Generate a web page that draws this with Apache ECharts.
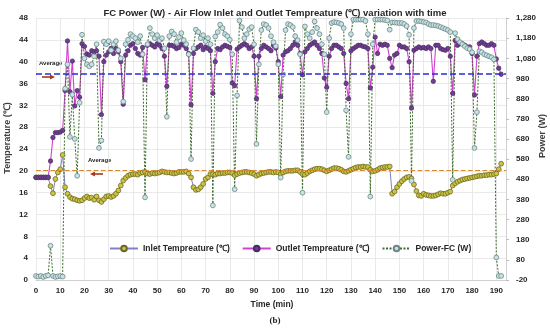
<!DOCTYPE html>
<html><head><meta charset="utf-8">
<script src="https://cdn.jsdelivr.net/npm/echarts@6/dist/echarts.min.js"></script>
<style>html,body{margin:0;padding:0;background:#fff}#c{width:550px;height:333px}</style>
</head><body><div id="c"></div>
<script>
const TITLE = 'FC Power (W) - Air Flow Inlet and Outlet Tempreature (℃) variation with time';
const timeMin = [0,1,2,3,4,5,6,7,8,9,10,11,12,13,14,15,16,17,18,19,20,21,22,23,24,25,26,27,28,29,30,31,32,33,34,35,36,37,38,39,40,41,42,43,44,45,46,47,48,49,50,51,52,53,54,55,56,57,58,59,60,61,62,63,64,65,66,67,68,69,70,71,72,73,74,75,76,77,78,79,80,81,82,83,84,85,86,87,88,89,90,91,92,93,94,95,96,97,98,99,100,101,102,103,104,105,106,107,108,109,110,111,112,113,114,115,116,117,118,119,120,121,122,123,124,125,126,127,128,129,130,131,132,133,134,135,136,137,138,139,140,141,142,143,144,145,146,147,148,149,150,151,152,153,154,155,156,157,158,159,160,161,162,163,164,165,166,167,168,169,170,171,172,173,174,175,176,177,178,179,180,181,182,183,184,185,186,187,188,189,190,191,192];
const inletTemp = [
18.8,18.8,18.8,18.8,18.8,18.8,17.2,15.9,18.5,19.7,20.3,22.9,
17.0,15.8,15.2,14.9,14.8,14.6,14.5,14.6,
15.0,15.3,15.0,15.1,14.7,15.3,14.6,14.3,
14.8,15.3,15.4,15.2,15.4,15.8,16.4,17.3,18.2,
18.7,19.1,19.3,19.4,19.4,19.3,19.6,19.7,19.8,
19.5,19.4,19.6,19.5,19.6,19.7,19.9,19.8,19.7,
19.7,19.6,19.5,19.6,19.8,19.8,19.8,19.9,19.5,18.8,
17.0,16.5,16.6,17.0,17.6,18.5,18.8,19.4,19.4,
19.3,19.5,19.5,19.6,19.6,19.7,19.7,19.6,19.2,19.4,19.6,
19.7,19.8,19.8,19.7,19.6,19.4,19.1,
19.3,19.5,19.6,19.7,19.8,19.8,19.7,19.8,19.7,19.4,
19.7,19.9,20.0,20.0,20.0,20.1,20.1,19.8,19.4,
19.3,19.6,19.9,20.1,20.3,20.4,20.4,20.3,20.1,19.9,
20.1,20.3,20.5,20.5,20.4,20.2,19.9,19.8,20.0,
20.2,20.4,20.6,20.7,20.7,20.8,20.7,20.7,20.2,
19.9,20.0,20.2,20.5,20.6,20.7,20.7,20.8,
15.8,16.2,17.0,17.6,18.1,18.5,18.8,18.9,18.6,
17.5,16.3,15.5,15.4,15.8,15.6,15.5,15.4,15.4,15.5,15.7,15.9,15.8,15.8,16.0,16.2,17.3,
17.7,18.0,18.2,18.4,18.5,18.6,18.7,18.8,18.9,19.0,
19.1,19.1,19.2,19.2,19.3,19.3,19.4,19.5,20.3,21.3];
const outletTemp = [
18.8,18.8,18.8,18.8,18.8,18.8,21.8,26.1,27.0,27.0,27.1,27.4,
34.7,43.8,34.5,40.1,31.9,34.7,33.5,43.3,
42.8,41.4,41.2,42.0,41.8,42.0,41.0,30.3,
40.0,41.2,41.8,42.4,41.5,42.4,41.8,40.0,32.2,
41.2,42.0,43.0,43.3,42.4,41.5,41.2,42.6,36.7,
43.0,43.3,43.0,42.7,43.3,43.0,42.4,41.0,35.5,
43.0,43.0,42.8,42.4,42.6,43.2,43.0,42.4,41.5,32.1,
41.5,42.4,42.7,43.0,42.2,42.7,42.4,42.0,34.2,
40.0,42.4,42.2,42.7,43.0,42.8,42.6,36.1,35.6,42.3,42.7,
43.0,43.3,43.0,42.4,42.7,41.0,33.2,
41.0,42.4,43.0,42.7,42.4,42.0,43.0,42.5,40.0,33.6,
41.2,41.8,42.0,42.4,43.0,43.6,43.0,41.5,37.6,
41.8,42.4,43.0,43.3,43.6,43.0,42.4,41.5,37.0,35.3,
41.0,42.4,43.0,43.0,42.7,42.4,41.5,36.0,33.2,
42.0,42.4,42.7,43.0,43.0,42.8,42.7,42.4,35.2,
39.0,44.5,41.5,43.2,43.0,43.2,43.0,40.6,
38.9,41.2,41.5,43.0,42.7,42.7,42.4,40.0,31.5,
42.1,42.4,42.7,42.5,42.6,42.4,42.7,42.4,36.4,43.0,43.0,42.4,42.2,42.1,42.4,41.0,34.2,
43.9,43.0,43.3,43.3,43.0,42.7,42.7,41.5,33.9,41.0,
43.3,43.6,43.3,43.0,43.0,43.3,43.0,40.5,38.8,37.7];
const powerFC = [
0,-3,0,-5,0,3,150,0,-5,-2,0,-3,
930,1050,690,900,680,497,860,1197,
1080,1050,1040,1050,1090,1150,635,672,
1163,1150,1165,1120,1150,1165,1120,1080,865,
1150,1172,1200,1190,1180,1160,1190,1100,390,
1150,1230,1200,1180,1195,1170,1180,1130,790,
1190,1213,1200,1160,1185,1205,1170,1150,1100,580,
1130,1222,1210,1180,1195,1165,1180,1150,350,
1188,1210,1247,1230,1200,1190,1172,1100,430,896,1267,
1235,1180,1200,1225,1235,1150,655,
1050,1220,1250,1245,1230,1190,1160,1140,1050,488,
1000,1220,1250,1245,1235,1190,1170,1100,413,
1238,1200,1180,1210,1263,1230,1200,1150,1100,813,
1180,1255,1260,1258,1255,1250,1230,822,591,
1200,1272,1272,1272,1272,1272,1265,1200,394,
1150,1272,1272,1272,1272,1270,1268,1222,
1258,1258,1256,1255,1255,1250,1240,1197,472,
1230,1265,1265,1263,1260,1258,1250,1245,1245,1243,1240,1235,1230,1225,1220,1210,477,
1205,1175,1160,1150,1140,1130,1125,1110,635,813,
1115,1110,1100,1095,1090,1085,1075,92,0,0];
const OUTLET_AVG = 37.7;
const INLET_AVG = 20.1;
const seriesNames = ['Inlet Tempreature (℃)', 'Outlet Tempreature (℃)', 'Power-FC (W)'];

const FONT = '"Liberation Sans", Arial, sans-serif';
const lbl = {fontSize: 8, fontWeight: 'bold', color: '#262626', fontFamily: FONT};
const pair = arr => timeMin.map((t, i) => [t, arr[i]]);
const chart = echarts.init(document.getElementById('c'), null, {renderer: 'canvas'});
const arrowColor = '#a53a1c';
chart.setOption({
  animation: false,
  backgroundColor: '#ffffff',
  textStyle: {fontFamily: FONT},
  title: {text: TITLE, left: 'center', top: 3, textStyle: {fontSize: 9.5, fontWeight: 'bold', color: '#262626', fontFamily: FONT}},
  grid: {left: 36, right: 44, top: 18, bottom: 53},
  xAxis: {type: 'value', min: 0, max: 194, interval: 10,
    axisLabel: Object.assign({showMaxLabel: false, margin: 7}, lbl),
    axisLine: {show: true, lineStyle: {color: '#d0d0d0'}}, axisTick: {show: false},
    splitLine: {show: true, lineStyle: {color: '#e3e3e3', width: 0.8}}},
  yAxis: [
    {type: 'value', min: 0, max: 48, interval: 4, position: 'left',
     axisLabel: Object.assign({margin: 8}, lbl), axisLine: {show: false}, axisTick: {show: false},
     splitLine: {show: true, lineStyle: {color: '#e3e3e3', width: 0.8}}},
    {type: 'value', min: -20, max: 1280, interval: 100, position: 'right',
     axisLabel: Object.assign({margin: 10}, lbl), axisLine: {show: true, lineStyle: {color: '#d0d0d0'}},
     axisTick: {show: true, length: 3, lineStyle: {color: '#bdbdbd'}}, splitLine: {show: false}}
  ],
  legend: {left: 104, top: 239, itemWidth: 28, itemHeight: 7, itemGap: 12,
    textStyle: {fontSize: 8.5, fontWeight: 'bold', color: '#262626', fontFamily: FONT},
    data: seriesNames},
  series: [
    {name: seriesNames[0], type: 'line', data: pair(inletTemp), yAxisIndex: 0,
     symbol: 'circle', symbolSize: 4.8, showAllSymbol: true,
     lineStyle: {color: '#8080c8', width: 1},
     itemStyle: {color: '#cdc443', borderColor: '#6d6a22', borderWidth: 0.8},
     markLine: {silent: true, symbol: 'none', label: {show: false},
       lineStyle: {color: '#d7892c', type: 'dashed', width: 1.2},
       data: [{yAxis: INLET_AVG}]}},
    {name: seriesNames[1], type: 'line', data: pair(outletTemp), yAxisIndex: 0,
     symbol: 'circle', symbolSize: 4.4, showAllSymbol: true,
     lineStyle: {color: '#d23fd2', width: 1.1},
     itemStyle: {color: '#6e3f8e', borderColor: '#4a2a66', borderWidth: 0.7},
     markLine: {silent: true, symbol: 'none', label: {show: false},
       lineStyle: {color: '#2b2bdc', type: 'dashed', width: 1.5},
       data: [{yAxis: OUTLET_AVG}]}},
    {name: seriesNames[2], type: 'line', data: pair(powerFC), yAxisIndex: 1,
     symbol: 'circle', symbolSize: 4.8, showAllSymbol: true,
     lineStyle: {color: '#3d6b2c', width: 1, type: [2, 1.5]},
     itemStyle: {color: '#c4e4e6', borderColor: '#6f8585', borderWidth: 0.8}}
  ],
  graphic: [
    {type: 'text', left: 39, top: 60, style: {text: 'Average', fontSize: 6, fontWeight: 'bold', fill: '#222', fontFamily: FONT}},
    {type: 'line', shape: {x1: 42, y1: 77, x2: 51, y2: 77}, style: {stroke: arrowColor, lineWidth: 1.6}},
    {type: 'polygon', shape: {points: [[55, 77], [50, 74.5], [50, 79.5]]}, style: {fill: arrowColor}},
    {type: 'text', left: 88, top: 157, style: {text: 'Average', fontSize: 6, fontWeight: 'bold', fill: '#222', fontFamily: FONT}},
    {type: 'line', shape: {x1: 94, y1: 174, x2: 103, y2: 174}, style: {stroke: arrowColor, lineWidth: 1.6}},
    {type: 'polygon', shape: {points: [[90, 174], [95, 171.5], [95, 176.5]]}, style: {fill: arrowColor}},
    {type: 'text', x: 8, y: 138, rotation: Math.PI / 2,
     style: {text: 'Temperature (℃)', fontSize: 9, fontWeight: 'bold', fill: '#404040', align: 'center', verticalAlign: 'middle', fontFamily: FONT}},
    {type: 'text', x: 543, y: 136, rotation: Math.PI / 2,
     style: {text: 'Power (W)', fontSize: 9, fontWeight: 'bold', fill: '#404040', align: 'center', verticalAlign: 'middle', fontFamily: FONT}},
    {type: 'text', x: 272, y: 305, style: {text: 'Time (min)', fontSize: 8.5, fontWeight: 'bold', fill: '#262626', align: 'center', verticalAlign: 'middle', fontFamily: FONT}},
    {type: 'text', x: 275, y: 321, style: {text: '(b)', fontSize: 9, fontWeight: 'bold', fill: '#222', align: 'center', verticalAlign: 'middle', fontFamily: '"Liberation Serif", serif'}}
  ]
});
</script></body></html>
